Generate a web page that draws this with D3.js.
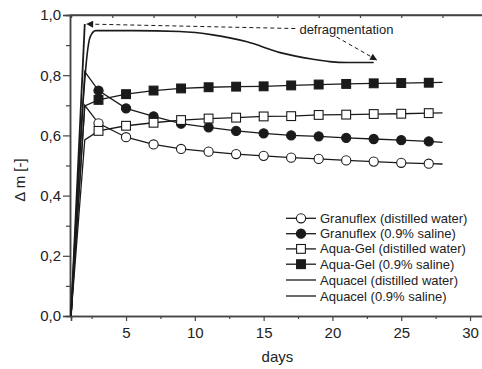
<!DOCTYPE html>
<html><head><meta charset="utf-8">
<script src="https://cdn.jsdelivr.net/npm/d3@7"></script>
<style>body{margin:0;background:#fff}svg{display:block}text{font-family:"Liberation Sans",Arial,sans-serif;fill:#222}</style>
</head><body><svg id="c" width="482" height="369"></svg>
<script>
const days = [3,5,7,9,11,13,15,17,19,21,23,25,27];
const granDW  = [0.640,0.594,0.570,0.555,0.546,0.538,0.532,0.526,0.522,0.517,0.513,0.509,0.506];
const granSal = [0.749,0.690,0.663,0.639,0.627,0.615,0.607,0.600,0.597,0.592,0.588,0.584,0.580];
const aquaDW  = [0.615,0.632,0.642,0.651,0.656,0.659,0.663,0.664,0.668,0.669,0.671,0.672,0.674];
const aquaSal = [0.718,0.737,0.749,0.756,0.760,0.762,0.763,0.766,0.769,0.771,0.773,0.774,0.775];
// line-only start (day 1, day 2) and end (day 28) values
const startDay = [1,2], endDay = 28;
const granDWStart=[0,0.700], granSalStart=[0,0.812], aquaDWStart=[0,0.585], aquaSalStart=[0,0.698];
const granDWEnd=0.505, granSalEnd=0.577, aquaDWEnd=0.675, aquaSalEnd=0.776;
// Aquacel curves
const aquacelDWDays=[1,2], aquacelDW=[0,0.970];
const aquacelSalDays=[1,2,2.15,2.4,2.8,5.5,8.9,11.3,13.8,16.2,18.6,19.8,21.1,23];
const aquacelSal=[0,0.784,0.86,0.928,0.948,0.948,0.945,0.934,0.911,0.875,0.853,0.845,0.842,0.842];
const xTicks=[5,10,15,20,25,30], xMinor=[2.5,7.5,12.5,17.5,22.5,27.5];
const yTicks=[0,0.2,0.4,0.6,0.8,1.0], yMinor=[0.1,0.3,0.5,0.7,0.9];
const topTicks=[4,7,10,13,16,19,22,25,28];
const legendLabels=["Granuflex (distilled water)","Granuflex (0.9% saline)","Aqua-Gel (distilled water)","Aqua-Gel (0.9% saline)","Aquacel (distilled water)","Aquacel (0.9% saline)"];

const svg=d3.select("#c");
const x=d3.scaleLinear([1,31],[71,483.8]);
const y=d3.scaleLinear([0,1],[316,15]);
const ink="#1a1a1a", axc="#444";
const fmt=v=>d3.format(".1f")(v).replace(".",",");

svg.append("defs").append("marker").attr("id","ah").attr("viewBox","0 0 10 10").attr("refX",10).attr("refY",5)
 .attr("markerWidth",9).attr("markerHeight",7).attr("markerUnits","userSpaceOnUse").attr("orient","auto")
 .append("path").attr("d","M0,0L10,5L0,10z").attr("fill",ink);

// axes
svg.append("g").attr("transform",`translate(0,${y(0)})`)
 .call(d3.axisBottom(x).tickValues(xTicks).tickSize(5).tickPadding(6).tickFormat(d3.format("d")));
svg.append("g").attr("transform",`translate(0,${y(0)})`).call(d3.axisBottom(x).tickValues(xMinor).tickSize(3).tickFormat(""));
svg.append("g").attr("transform",`translate(${x(1)-1},0)`)
 .call(d3.axisLeft(y).tickValues(yTicks).tickSize(7).tickPadding(2).tickFormat(fmt));
svg.append("g").attr("transform",`translate(${x(1)-1},0)`).call(d3.axisLeft(y).tickValues(yMinor).tickSize(4).tickFormat(""));
svg.append("g").attr("transform",`translate(0,${y(1)})`).call(d3.axisBottom(x).tickValues(topTicks).tickSize(3).tickFormat(""));
svg.append("line").attr("x1",x(1)-1).attr("x2",x(31)).attr("y1",y(1)).attr("y2",y(1)).attr("stroke",axc).attr("stroke-width",1.5);
svg.selectAll(".domain").attr("stroke",axc).attr("stroke-width",1.5);
svg.selectAll(".tick line").attr("stroke",axc).attr("stroke-width",1.2);
svg.selectAll(".tick text").attr("font-size",15).attr("font-family","Liberation Sans, Arial").attr("fill","#222");

svg.append("text").attr("x",x(16)).attr("y",362).attr("text-anchor","middle").attr("font-size",15).text("days");
svg.append("text").attr("transform","translate(25,180) rotate(-90)").attr("text-anchor","middle").attr("font-size",15).text("Δ m [-]");

const line=d3.line().x(d=>x(d[0])).y(d=>y(d[1]));
const mline=d3.line().x(d=>x(d[0])).y(d=>y(d[1])).curve(d3.curveMonotoneX);

const series=[
 {v:granDW, s:granDWStart, e:granDWEnd, shape:"circle", fill:"#fff"},
 {v:granSal, s:granSalStart, e:granSalEnd, shape:"circle", fill:ink},
 {v:aquaDW, s:aquaDWStart, e:aquaDWEnd, shape:"square", fill:"#fff"},
 {v:aquaSal, s:aquaSalStart, e:aquaSalEnd, shape:"square", fill:ink}
];
function marker(g,cx,cy,shape,fill){
 if(shape==="circle") g.append("circle").attr("cx",cx).attr("cy",cy).attr("r",4.6).attr("fill",fill).attr("stroke",ink).attr("stroke-width",1.1);
 else g.append("rect").attr("x",cx-4.4).attr("y",cy-4.4).attr("width",8.8).attr("height",8.8).attr("fill",fill).attr("stroke",ink).attr("stroke-width",1.1);
}
// aquacel lines
svg.append("path").attr("d",line(aquacelDWDays.map((d,i)=>[d,aquacelDW[i]]))).attr("fill","none").attr("stroke",ink).attr("stroke-width",1.8);
svg.append("path").attr("d",mline(aquacelSalDays.map((d,i)=>[d,aquacelSal[i]]))).attr("fill","none").attr("stroke",ink).attr("stroke-width",1.6);

series.forEach(S=>{
 const pts=startDay.map((d,i)=>[d,S.s[i]]).concat(days.map((d,i)=>[d,S.v[i]])).concat([[endDay,S.e]]);
 svg.append("path").attr("d",line(pts)).attr("fill","none").attr("stroke",ink).attr("stroke-width",1.3);
});
series.forEach(S=>{
 const g=svg.append("g");
 days.forEach((d,i)=>marker(g,x(d),y(S.v[i]),S.shape,S.fill));
});

// annotation
svg.append("line").attr("x1",x(17.3)).attr("y1",y(0.955)).attr("x2",x(2.1)).attr("y2",y(0.970))
 .attr("stroke",ink).attr("stroke-width",1).attr("stroke-dasharray","4,3").attr("marker-end","url(#ah)");
svg.append("line").attr("x1",x(20.3)).attr("y1",y(0.927)).attr("x2",x(23.25)).attr("y2",y(0.850))
 .attr("stroke",ink).attr("stroke-width",1).attr("stroke-dasharray","4,3").attr("marker-end","url(#ah)");
svg.append("text").attr("x",x(17.6)).attr("y",y(0.937)).attr("font-size",13).text("defragmentation");

// legend
const lg=svg.append("g");
const rows=[218.3,233.7,248.9,264.2,280,296];
legendLabels.forEach((t,i)=>{
 lg.append("line").attr("x1",286).attr("x2",316).attr("y1",rows[i]).attr("y2",rows[i]).attr("stroke",ink).attr("stroke-width",1.3);
 if(i<4) marker(lg,301,rows[i],series[i].shape,series[i].fill);
 lg.append("text").attr("x",320).attr("y",rows[i]).attr("dy","0.35em").attr("font-size",13).text(t);
});
</script></body></html>
